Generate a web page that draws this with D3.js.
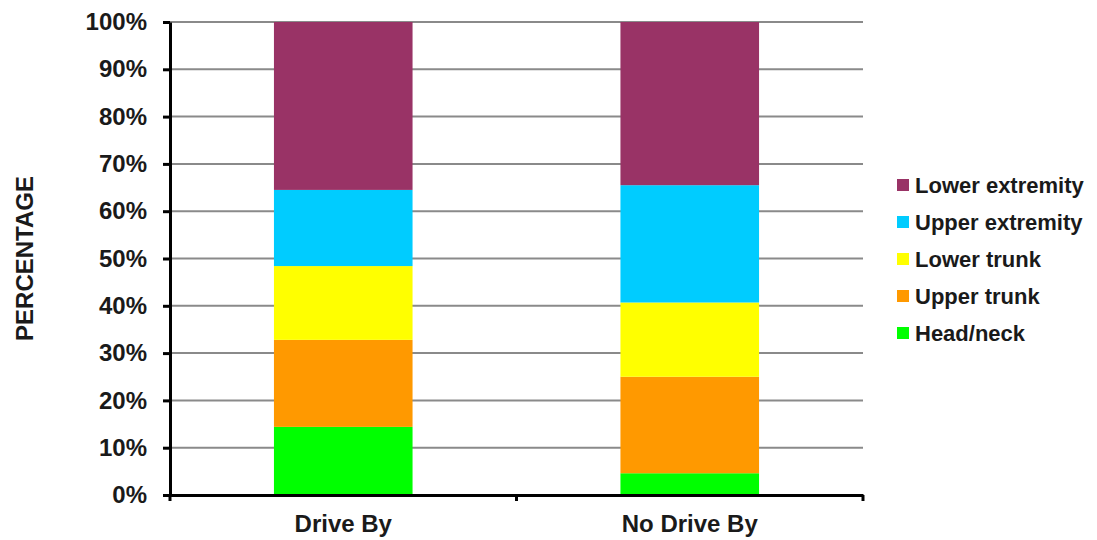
<!DOCTYPE html>
<html>
<head>
<meta charset="utf-8">
<script src="https://cdn.jsdelivr.net/npm/d3@7"></script>
<style>
  html, body { margin: 0; padding: 0; background: #fff; }
  svg { display: block; }
  text { font-family: "Liberation Sans", Arial, sans-serif; font-weight: bold; fill: #1a1a1a; }
</style>
</head>
<body>
<svg id="chart" width="1097" height="540"></svg>
<script>
const categories = ["Drive By", "No Drive By"];
const seriesNames = ["Head/neck", "Upper trunk", "Lower trunk", "Upper extremity", "Lower extremity"];
const headNeck       = [14.4, 4.6];
const upperTrunk     = [18.4, 20.4];
const lowerTrunk     = [15.6, 15.7];
const upperExtremity = [16.1, 24.8];
const lowerExtremity = [35.5, 34.5];
const seriesColors = ["#00FF00", "#FF9900", "#FFFF00", "#00CCFF", "#993366"];
const yTicks = [0, 10, 20, 30, 40, 50, 60, 70, 80, 90, 100];

const seriesValues = [headNeck, upperTrunk, lowerTrunk, upperExtremity, lowerExtremity];
const table = categories.map((c, i) => {
  const row = { category: c };
  seriesNames.forEach((s, j) => row[s] = seriesValues[j][i]);
  return row;
});

const svg = d3.select("#chart");
const pLeft = 170, pRight = 863, pTop = 22, pBottom = 495;

const x = d3.scaleBand().domain(categories).range([pLeft, pRight]).paddingInner(0.6).paddingOuter(0.3);
const y = d3.scaleLinear().domain([0, 100]).range([pBottom, pTop]);

// gridlines
svg.append("g").selectAll("line").data(yTicks.filter(t => t > 0)).join("line")
  .attr("x1", pLeft).attr("x2", pRight)
  .attr("y1", d => y(d)).attr("y2", d => y(d))
  .attr("stroke", "#8a8a8a").attr("stroke-width", 2);

// stacked bars
const stack = d3.stack().keys(seriesNames)(table);
svg.append("g").selectAll("g").data(stack).join("g")
  .attr("fill", (d, i) => seriesColors[i])
  .selectAll("rect").data(d => d).join("rect")
  .attr("x", d => x(d.data.category))
  .attr("width", x.bandwidth())
  .attr("y", d => y(d[1]))
  .attr("height", d => y(d[0]) - y(d[1]));

// y axis
const yAxis = svg.append("g").attr("transform", `translate(${pLeft},0)`)
  .call(d3.axisLeft(y).tickValues(yTicks).tickFormat(d => d + "%").tickSize(7).tickPadding(16).tickSizeOuter(0));
yAxis.select(".domain").attr("stroke", "#000").attr("stroke-width", 3);
yAxis.selectAll(".tick line").attr("stroke", "#000").attr("stroke-width", 3);
yAxis.selectAll(".tick text").attr("font-size", 24).attr("fill", "#1a1a1a")
  .attr("font-family", "Liberation Sans, Arial, sans-serif").attr("font-weight", "bold");

// x axis
const xAxis = svg.append("g").attr("transform", `translate(0,${pBottom})`)
  .call(d3.axisBottom(x).tickSize(0).tickPadding(20));
xAxis.select(".domain").attr("stroke", "#000").attr("stroke-width", 3);
xAxis.selectAll(".tick text").attr("font-size", 24).attr("fill", "#1a1a1a")
  .attr("font-family", "Liberation Sans, Arial, sans-serif").attr("font-weight", "bold");
// category separator ticks
const sepX = [pLeft, (x(categories[0]) + x.bandwidth() + x(categories[1])) / 2, pRight];
xAxis.selectAll(".sep").data(sepX).join("line").attr("class", "sep")
  .attr("x1", d => d).attr("x2", d => d).attr("y1", 0).attr("y2", 6)
  .attr("stroke", "#000").attr("stroke-width", 3);

// y axis title
svg.append("text")
  .attr("transform", `translate(33,${(pTop + pBottom) / 2}) rotate(-90)`)
  .attr("text-anchor", "middle")
  .attr("font-size", 24)
  .text("PERCENTAGE");

// legend
const legendOrder = seriesNames.map((s, i) => ({ name: s, color: seriesColors[i] })).reverse();
const lg = svg.append("g").selectAll("g").data(legendOrder).join("g")
  .attr("transform", (d, i) => `translate(897,${185 + i * 37})`);
lg.append("rect").attr("x", 0).attr("y", -6).attr("width", 12).attr("height", 12).attr("fill", d => d.color);
lg.append("text").attr("x", 18).attr("dy", "0.35em").attr("font-size", 22).text(d => d.name);
</script>
</body>
</html>
